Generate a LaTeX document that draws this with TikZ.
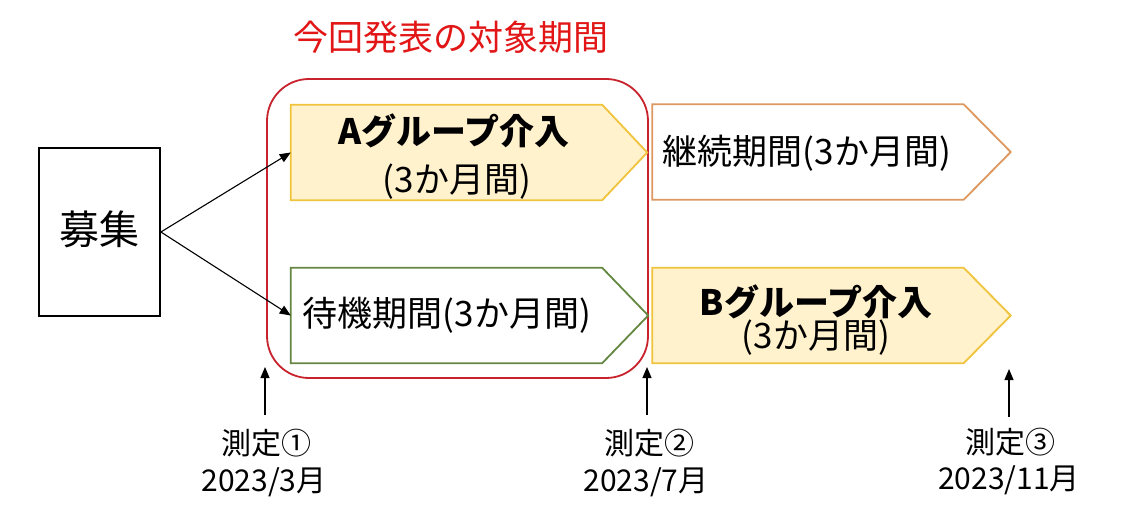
\documentclass[tikz,border=0pt]{standalone}
\usepackage{fontspec}
\setmainfont{Noto Sans CJK JP}
\usetikzlibrary{arrows.meta,calc}
\definecolor{redt}{RGB}{226,22,22}
\definecolor{redb}{RGB}{200,35,45}
\definecolor{yfill}{RGB}{255,242,204}
\definecolor{ydraw}{RGB}{240,195,60}
\definecolor{gdraw}{RGB}{100,135,65}
\definecolor{odraw}{RGB}{222,152,95}
\tikzset{
  body/.style={minimum width=311pt, minimum height=95pt, inner sep=0pt, draw=none},
  pent/.style={line width=1.8pt, line join=miter},
  conn/.style={line width=1.1pt, -{Triangle[length=11pt,width=9pt]}},
  lbl/.style={inner sep=0pt, font=\fontsize{30}{34}\selectfont},
  txt/.style={inner sep=0pt, font=\fontsize{35}{40}\selectfont},
  txtb/.style={inner sep=0pt, font=\fontsize{35}{40}\selectfont\bfseries},
}
\begin{document}
\begin{tikzpicture}[x=1pt,y=-1pt]
\useasboundingbox (0,0) rectangle (1139,513);
\fill[white] (0,0) rectangle (1139,513);

% title
\node[inner sep=0pt, text=redt, font=\fontsize{35}{40}\selectfont] (title) at (451,37) {今回発表の対象期間};

% frame
\node[draw=redb, line width=1.8pt, rounded corners=42pt, minimum width=381pt, minimum height=299pt, inner sep=0pt] (frame) at (457.5,228.5) {};

% recruitment box
\node[draw=black, line width=1.8pt, minimum width=121pt, minimum height=168pt, inner sep=0pt] (boshu) at (99.5,232) {};
\node[inner sep=0pt, font=\fontsize{40}{44}\selectfont] (boshut) at (99,229) {募集};

% bodies
\node[body] (A) at (446.5,152.5) {};
\node[body] (W) at (446.5,315.5) {};
\node[body] (C) at (808,152) {};
\node[body] (B) at (808,315.5) {};

\draw[pent, draw=ydraw, fill=yfill] (A.north west) -- (A.north east) -- ($(A.east)+(45,0)$) -- (A.south east) -- (A.south west) -- cycle;
\draw[pent, draw=gdraw, fill=white] (W.north west) -- (W.north east) -- ($(W.east)+(46,0)$) -- (W.south east) -- (W.south west) -- cycle;
\draw[pent, draw=odraw, fill=white] (C.north west) -- (C.north east) -- ($(C.east)+(47,0)$) -- (C.south east) -- (C.south west) -- cycle;
\draw[pent, draw=ydraw, fill=yfill] (B.north west) -- (B.north east) -- ($(B.east)+(47,0)$) -- (B.south east) -- (B.south west) -- cycle;

% texts
\node[txtb] (A1) at (454,131) {Aグループ介入};
\node[txt] (A2) at (457,182) {(3か月間)};
\node[txt] (W1) at (447,315) {待機期間(3か月間)};
\node[txt] (C1) at (807,153) {継続期間(3か月間)};
\node[txtb] (B1) at (816,302) {Bグループ介入};
\node[txt] (B2) at (816,338) {(3か月間)};

% connectors
\draw[conn] (boshu.east) -- (A.west);
\draw[conn] (boshu.east) -- (W.west);

% measurements
\node[lbl] (m1a) at (266,443) {測定①};
\node[lbl] (m1b) at (264,482) {2023/3月};
\node[lbl] (m2a) at (649,443) {測定②};
\node[lbl] (m2b) at (646,482) {2023/7月};
\node[lbl] (m3a) at (1010,442) {測定③};
\node[lbl] (m3b) at (1009,480) {2023/11月};
\coordinate (t1) at (265,367);
\coordinate (t2) at (647,367);
\coordinate (t3) at (1009,369);
\draw[conn] (t1 |- 0,415) -- (t1);
\draw[conn] (t2 |- 0,415) -- (t2);
\draw[conn] (t3 |- 0,417) -- (t3);
\end{tikzpicture}
\end{document}
